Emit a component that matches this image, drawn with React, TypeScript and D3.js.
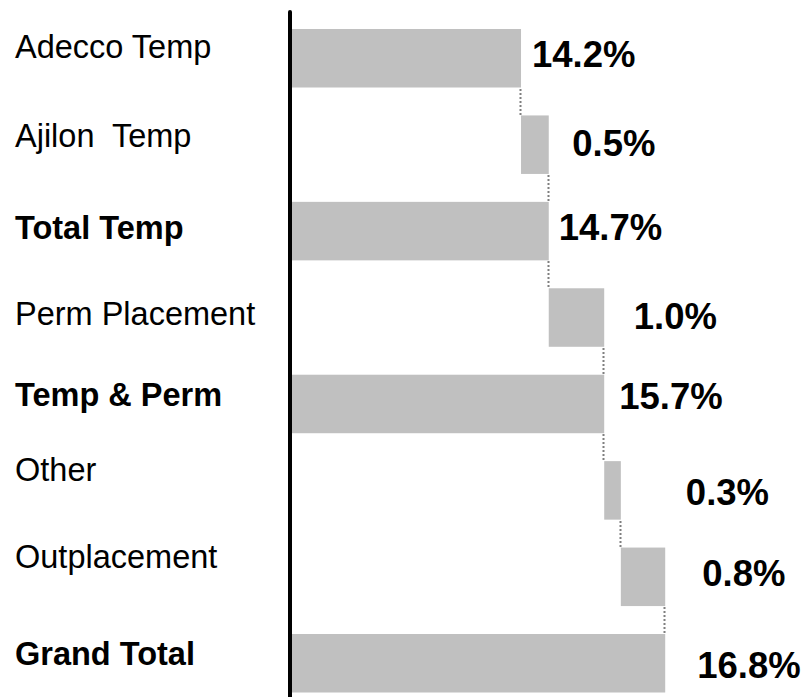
import React from "react";
import * as d3 from "d3";

// ---- data ----
const categories = [
  "Adecco Temp",
  "Ajilon  Temp",
  "Total Temp",
  "Perm Placement",
  "Temp & Perm",
  "Other",
  "Outplacement",
  "Grand Total",
];
const values = [14.2, 0.5, 14.7, 1.0, 15.7, 0.3, 0.8, 16.8];
// "start" / "total" bars begin at the axis; "delta" bars float on the running total
const kinds = ["start", "delta", "total", "delta", "total", "delta", "delta", "total"];
const valueLabels = ["14.2%", "0.5%", "14.7%", "1.0%", "15.7%", "0.3%", "0.8%", "16.8%"];
const axisDomain = [10, 17];

// ---- layout (label nudges, px) ----
const valueLabelDx = [11, 23.5, 10, 29.5, 15, 65, 37, 32];
const valueLabelDy = [8.5, 11.3, 8.9, 11.5, 5, 14.6, 9.2, 14.7];
const catLabelDy = [0, 2, 8.2, 7.5, 2, -9.4, -8.8, 1.7];

const W = 808;
const H = 697;

export default function App() {
  const x = d3.scaleLinear().domain(axisDomain).range([288.1, 676.3]);
  const y = d3
    .scaleBand<string>()
    .domain(categories)
    .range([29, 692.5])
    .paddingInner(0.323)
    .paddingOuter(0);

  let running = axisDomain[0];
  const bars = categories.map((c, i) => {
    let start: number, end: number;
    if (kinds[i] === "delta") {
      start = running;
      end = running + values[i];
    } else {
      start = axisDomain[0];
      end = values[i];
    }
    running = end;
    return { c, i, start, end, bold: kinds[i] === "total" };
  });

  const bw = y.bandwidth();
  const font = "'Liberation Sans', Arial, Helvetica, sans-serif";

  return (
    <svg
      width={W}
      height={H}
      style={{ position: "fixed", left: 0, top: 0, background: "#fff" }}
    >
      <rect x={0} y={0} width={W} height={H} fill="#fff" />
      {bars.map((b) => (
        <rect
          key={"bar" + b.i}
          x={x(b.start)}
          y={y(b.c)!}
          width={x(b.end) - x(b.start)}
          height={bw}
          fill="#c0c0c0"
        />
      ))}
      {bars.slice(0, -1).map((b) => {
        const next = bars[b.i + 1];
        const cx = Math.round(x(b.end)) - 0.5;
        return (
          <line
            key={"con" + b.i}
            x1={cx}
            x2={cx}
            y1={Math.round(y(b.c)! + bw) + 1}
            y2={y(next.c)!}
            stroke="#7f7f7f"
            strokeWidth={2}
            strokeDasharray="2 2"
          />
        );
      })}
      <line
        x1={290}
        x2={290}
        y1={12}
        y2={H + 5}
        stroke="#000"
        strokeWidth={4}
        strokeLinecap="round"
      />
      {bars.map((b) => (
        <text
          key={"cat" + b.i}
          x={15}
          y={y(b.c)! + bw / 2 + catLabelDy[b.i]}
          fontFamily={font}
          fontSize={32.5}
          fontWeight={b.bold ? "bold" : "normal"}
          fill="#000"
          style={{ whiteSpace: "pre" }}
        >
          {b.c}
        </text>
      ))}
      {bars.map((b) => (
        <text
          key={"val" + b.i}
          x={x(b.end) + valueLabelDx[b.i]}
          y={y(b.c)! + bw / 2 + valueLabelDy[b.i]}
          fontFamily={font}
          fontSize={36.5}
          fontWeight="bold"
          fill="#000"
        >
          {valueLabels[b.i]}
        </text>
      ))}
    </svg>
  );
}
